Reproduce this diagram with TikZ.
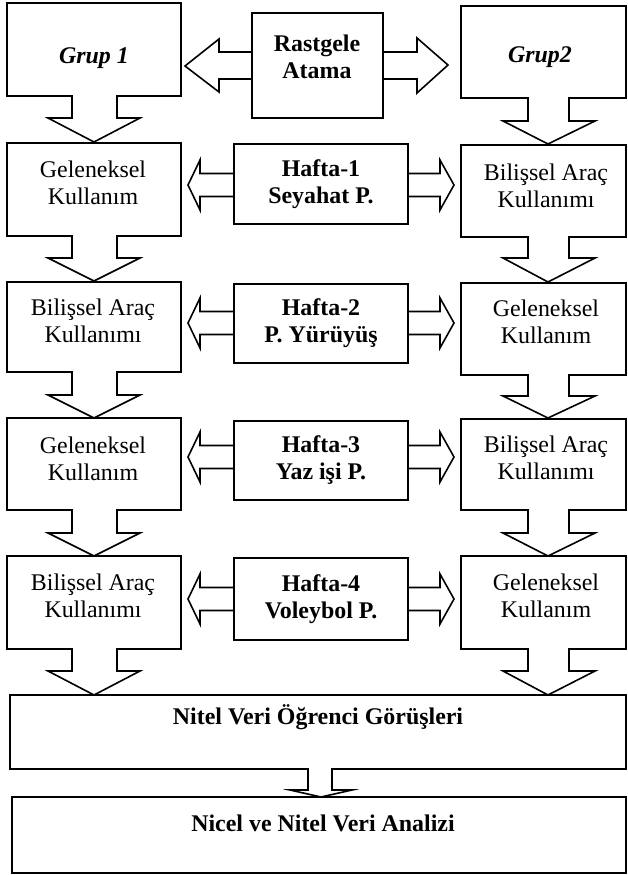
\documentclass[tikz,border=0pt]{standalone}
\usepackage{fontspec}
\setmainfont{Liberation Serif}
\tikzset{
  shp/.style={draw=black, line width=1.6bp, line join=miter, fill=white},
  txt/.style={align=center, inner sep=0pt, font=\fontsize{24}{27}\selectfont},
  btxt/.style={txt, font=\fontsize{24}{27}\selectfont\bfseries},
}
% left column down callout: top, bottom, shaft end, tip
\newcommand{\lcall}[4]{%
  \draw[shp] (7,#1) -- (181,#1) -- (181,#2) -- (117,#2) -- (117,#3) -- (140,#3)
    -- (94,#4) -- (48,#3) -- (72,#3) -- (72,#2) -- (7,#2) -- cycle;}
% right column down callout
\newcommand{\rcall}[4]{%
  \draw[shp] (461,#1) -- (626,#1) -- (626,#2) -- (569,#2) -- (569,#3) -- (595,#3)
    -- (548,#4) -- (503,#3) -- (528,#3) -- (528,#2) -- (461,#2) -- cycle;}
% week box with side arrows: top, bottom, arrow centre
\newcommand{\wkbox}[3]{%
  \draw[shp] (234,#3-11.5) -- (200,#3-11.5) -- (200,#3-25) -- (188,#3) -- (200,#3+25)
    -- (200,#3+11.5) -- (234,#3+11.5);
  \draw[shp] (408,#3-11.5) -- (440,#3-11.5) -- (440,#3-25) -- (454,#3) -- (440,#3+25)
    -- (440,#3+11.5) -- (408,#3+11.5);
  \draw[shp] (234,#1) rectangle (408,#2);}
\begin{document}
\begin{tikzpicture}[x=1bp, y=-1bp]
\useasboundingbox (0,0) rectangle (628,875);

% top row
\lcall{3}{96}{118}{142}
\rcall{6}{98}{121}{144}
\draw[shp] (252,52) -- (219,52) -- (219,39) -- (185,66) -- (219,92) -- (219,79) -- (252,79);
\draw[shp] (383,52) -- (417,52) -- (417,38) -- (448,65) -- (417,93) -- (417,79) -- (383,79);
\draw[shp] (252,13) rectangle (383,118);
\node[btxt, font=\fontsize{24}{27}\selectfont\bfseries\itshape] (g1) at (94,58) {Grup 1};
\node[btxt, font=\fontsize{24}{27}\selectfont\bfseries\itshape] (g2) at (540,57) {Grup2};
\node[btxt] (ra) at (317,57) {Rastgele\\Atama};

% rows
\lcall{143}{236}{258}{281}
\rcall{145}{237}{258}{282}
\wkbox{144}{224}{185}
\lcall{282}{372}{395}{418}
\rcall{283}{375}{396}{418}
\wkbox{284}{363}{323}
\lcall{418}{510}{533}{556}
\rcall{419}{510}{533}{556}
\wkbox{421}{500}{457}
\lcall{556}{649}{671}{695}
\rcall{556}{649}{671}{695}
\wkbox{558}{640}{599}

\node[txt] (l1) at (93,183) {Geleneksel\\Kullanım};
\node[txt] (r1) at (546,186) {Bilişsel Araç\\Kullanımı};
\node[btxt] (h1) at (321,184) {Hafta-1\\Seyahat P.};
\node[txt] (l2) at (93,321) {Bilişsel Araç\\Kullanımı};
\node[txt] (r2) at (546,322) {Geleneksel\\Kullanım};
\node[btxt] (h2) at (321,323) {Hafta-2\\P. Yürüyüş};
\node[txt] (l3) at (93,459) {Geleneksel\\Kullanım};
\node[txt] (r3) at (546,458) {Bilişsel Araç\\Kullanımı};
\node[btxt] (h3) at (321,460) {Hafta-3\\Yaz işi P.};
\node[txt] (l4) at (93,596) {Bilişsel Araç\\Kullanımı};
\node[txt] (r4) at (546,596) {Geleneksel\\Kullanım};
\node[btxt] (h4) at (321,599) {Hafta-4\\Voleybol P.};

% bottom
\draw[shp] (10,695) -- (626,695) -- (626,769) -- (332,769) -- (332,790) -- (352,790)
  -- (321,797) -- (290,790) -- (308,790) -- (308,769) -- (10,769) -- cycle;
\draw[shp] (12,797) rectangle (626,873);
\node[btxt] (nv) at (318,717) {Nitel Veri Öğrenci Görüşleri};
\node[btxt] (na) at (323,823) {Nicel ve Nitel Veri Analizi};
\end{tikzpicture}
\end{document}
